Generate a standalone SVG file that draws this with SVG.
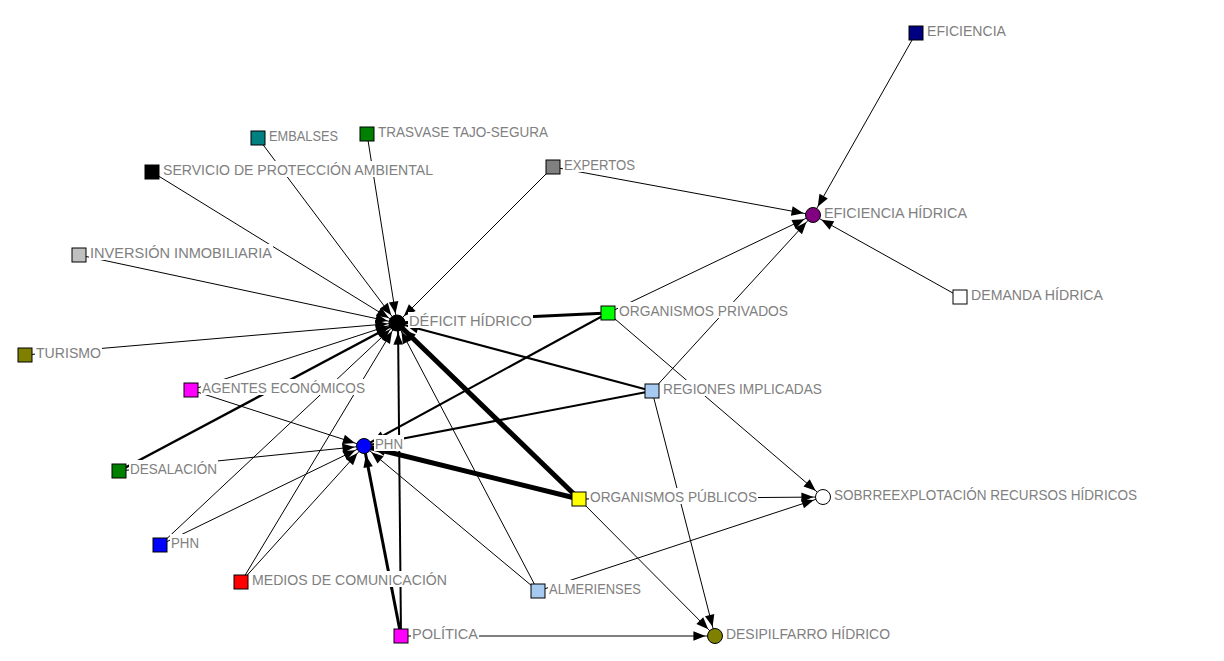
<svg xmlns="http://www.w3.org/2000/svg" width="1224" height="661" viewBox="0 0 1224 661">
<defs>
<marker id="arr" markerUnits="userSpaceOnUse" markerWidth="12" markerHeight="10" viewBox="0 0 10 8" refX="18" refY="4" orient="auto" overflow="visible">
<path d="M0,0 L10,4 L0,8 z" fill="#000"/>
</marker>
</defs>
<style>
.e{stroke:#000;fill:none;marker-end:url(#arr)}
.w1{stroke-width:1}
.w2{stroke-width:2}
.w25{stroke-width:2.5}
.w3{stroke-width:3}
.w5{stroke-width:5}
.sq{stroke:#000;stroke-width:1}
.ci{stroke:#000;stroke-width:1}
.bg{fill:#fff}
.lb{font-family:"Liberation Sans",Arial,sans-serif;font-size:15px;fill:#808080}
</style>
<rect width="1224" height="661" fill="#fff"/>
<g id="connectors">
<line class="e w1" x1="916" y1="33" x2="813" y2="215"/>
<line class="e w1" x1="553" y1="167" x2="813" y2="215"/>
<line class="e w1" x1="960" y1="297" x2="813" y2="215"/>
<line class="e w1" x1="608" y1="313" x2="813" y2="215"/>
<line class="e w1" x1="652" y1="391" x2="813" y2="215"/>
<line class="e w1" x1="553" y1="167" x2="397" y2="323"/>
<line class="e w1" x1="367" y1="134" x2="397" y2="323"/>
<line class="e w1" x1="258" y1="138" x2="397" y2="323"/>
<line class="e w1" x1="152" y1="172" x2="397" y2="323"/>
<line class="e w1" x1="79" y1="255" x2="397" y2="323"/>
<line class="e w1" x1="25" y1="355" x2="397" y2="323"/>
<line class="e w1" x1="191" y1="390" x2="397" y2="323"/>
<line class="e w25" x1="119" y1="471" x2="397" y2="323"/>
<line class="e w1" x1="160" y1="545" x2="397" y2="323"/>
<line class="e w1" x1="241" y1="582" x2="397" y2="323"/>
<line class="e w2" x1="401" y1="636" x2="398" y2="323"/>
<line class="e w1" x1="538" y1="591" x2="397" y2="323"/>
<line class="e w5" x1="579" y1="499" x2="397" y2="323"/>
<line class="e w2" x1="652" y1="391" x2="397" y2="323"/>
<line class="e w3" x1="608" y1="313" x2="397" y2="323"/>
<line class="e w1" x1="191" y1="390" x2="364" y2="446"/>
<line class="e w1" x1="119" y1="471" x2="364" y2="446"/>
<line class="e w1" x1="160" y1="545" x2="364" y2="446"/>
<line class="e w1" x1="241" y1="582" x2="364" y2="446"/>
<line class="e w3" x1="401" y1="636" x2="364" y2="446"/>
<line class="e w1" x1="538" y1="591" x2="364" y2="446"/>
<line class="e w5" x1="579" y1="499" x2="364" y2="446"/>
<line class="e w2" x1="652" y1="391" x2="364" y2="446"/>
<line class="e w2" x1="608" y1="313" x2="364" y2="446"/>
<line class="e w1" x1="608" y1="313" x2="823" y2="497"/>
<line class="e w1" x1="579" y1="499" x2="823" y2="497"/>
<line class="e w1" x1="538" y1="591" x2="823" y2="497"/>
<line class="e w1" x1="401" y1="636" x2="715" y2="636"/>
<line class="e w1" x1="579" y1="499" x2="715" y2="636"/>
<line class="e w1" x1="652" y1="391" x2="715" y2="636"/>
</g>
<g id="n-eficiencia"><rect class="bg" x="926" y="22" width="81" height="16"/><text class="lb" x="927" y="36" textLength="79" lengthAdjust="spacingAndGlyphs">EFICIENCIA</text><rect class="sq" x="909" y="26" width="14" height="14" fill="#000080"/></g>
<g id="n-eficiencia-hidrica"><rect class="bg" x="823" y="204" width="145" height="16"/><text class="lb" x="824" y="218" textLength="143" lengthAdjust="spacingAndGlyphs">EFICIENCIA HÍDRICA</text><circle class="ci" cx="813" cy="215" r="7.5" fill="#800080"/></g>
<g id="n-expertos"><rect class="bg" x="563" y="156" width="73" height="16"/><text class="lb" x="564" y="170" textLength="71" lengthAdjust="spacingAndGlyphs">EXPERTOS</text><rect class="sq" x="546" y="160" width="14" height="14" fill="#808080"/></g>
<g id="n-trasvase"><rect class="bg" x="377" y="123" width="172" height="16"/><text class="lb" x="378" y="137" textLength="170" lengthAdjust="spacingAndGlyphs">TRASVASE TAJO-SEGURA</text><rect class="sq" x="360" y="127" width="14" height="14" fill="#008000"/></g>
<g id="n-embalses"><rect class="bg" x="268" y="127" width="71" height="16"/><text class="lb" x="269" y="141" textLength="69" lengthAdjust="spacingAndGlyphs">EMBALSES</text><rect class="sq" x="251" y="131" width="14" height="14" fill="#008080"/></g>
<g id="n-servicio"><rect class="bg" x="162" y="161" width="272" height="16"/><text class="lb" x="163" y="175" textLength="270" lengthAdjust="spacingAndGlyphs">SERVICIO DE PROTECCIÓN AMBIENTAL</text><rect class="sq" x="145" y="165" width="14" height="14" fill="#000000"/></g>
<g id="n-inversion"><rect class="bg" x="89" y="244" width="184" height="16"/><text class="lb" x="90" y="258" textLength="182" lengthAdjust="spacingAndGlyphs">INVERSIÓN INMOBILIARIA</text><rect class="sq" x="72" y="248" width="14" height="14" fill="#c0c0c0"/></g>
<g id="n-turismo"><rect class="bg" x="35" y="344" width="67" height="16"/><text class="lb" x="36" y="358" textLength="65" lengthAdjust="spacingAndGlyphs">TURISMO</text><rect class="sq" x="18" y="348" width="14" height="14" fill="#808000"/></g>
<g id="n-agentes"><rect class="bg" x="201" y="379" width="165" height="16"/><text class="lb" x="202" y="393" textLength="163" lengthAdjust="spacingAndGlyphs">AGENTES ECONÓMICOS</text><rect class="sq" x="184" y="383" width="14" height="14" fill="#ff00ff"/></g>
<g id="n-desalacion"><rect class="bg" x="129" y="460" width="89" height="16"/><text class="lb" x="130" y="474" textLength="87" lengthAdjust="spacingAndGlyphs">DESALACIÓN</text><rect class="sq" x="112" y="464" width="14" height="14" fill="#008000"/></g>
<g id="n-phn-sq"><rect class="bg" x="170" y="534" width="30" height="16"/><text class="lb" x="171" y="548" textLength="28" lengthAdjust="spacingAndGlyphs">PHN</text><rect class="sq" x="153" y="538" width="14" height="14" fill="#0000ff"/></g>
<g id="n-medios"><rect class="bg" x="251" y="571" width="197" height="16"/><text class="lb" x="252" y="585" textLength="195" lengthAdjust="spacingAndGlyphs">MEDIOS DE COMUNICACIÓN</text><rect class="sq" x="234" y="575" width="14" height="14" fill="#ff0000"/></g>
<g id="n-politica"><rect class="bg" x="411" y="625" width="68" height="16"/><text class="lb" x="412" y="639" textLength="66" lengthAdjust="spacingAndGlyphs">POLÍTICA</text><rect class="sq" x="394" y="629" width="14" height="14" fill="#ff00ff"/></g>
<g id="n-almerienses"><rect class="bg" x="548" y="580" width="94" height="16"/><text class="lb" x="549" y="594" textLength="92" lengthAdjust="spacingAndGlyphs">ALMERIENSES</text><rect class="sq" x="531" y="584" width="14" height="14" fill="#a6caf0"/></g>
<g id="n-org-publicos"><rect class="bg" x="589" y="488" width="169" height="16"/><text class="lb" x="590" y="502" textLength="167" lengthAdjust="spacingAndGlyphs">ORGANISMOS PÚBLICOS</text><rect class="sq" x="572" y="492" width="14" height="14" fill="#ffff00"/></g>
<g id="n-regiones"><rect class="bg" x="662" y="380" width="161" height="16"/><text class="lb" x="663" y="394" textLength="159" lengthAdjust="spacingAndGlyphs">REGIONES IMPLICADAS</text><rect class="sq" x="645" y="384" width="14" height="14" fill="#a6caf0"/></g>
<g id="n-org-privados"><rect class="bg" x="618" y="302" width="171" height="16"/><text class="lb" x="619" y="316" textLength="169" lengthAdjust="spacingAndGlyphs">ORGANISMOS PRIVADOS</text><rect class="sq" x="601" y="306" width="14" height="14" fill="#00ff00"/></g>
<g id="n-demanda"><rect class="bg" x="970" y="286" width="134" height="16"/><text class="lb" x="971" y="300" textLength="132" lengthAdjust="spacingAndGlyphs">DEMANDA HÍDRICA</text><rect class="sq" x="953" y="290" width="14" height="14" fill="#ffffff"/></g>
<g id="n-deficit"><rect class="bg" x="408" y="312" width="125" height="16"/><text class="lb" x="409" y="326" textLength="123" lengthAdjust="spacingAndGlyphs">DÉFICIT HÍDRICO</text><circle class="ci" cx="397" cy="323" r="8" fill="#000000"/></g>
<g id="n-phn"><rect class="bg" x="374" y="435" width="30" height="16"/><text class="lb" x="375" y="449" textLength="28" lengthAdjust="spacingAndGlyphs">PHN</text><circle class="ci" cx="364" cy="446" r="7.5" fill="#0000ff"/></g>
<g id="n-sobre"><rect class="bg" x="833" y="486" width="305" height="16"/><text class="lb" x="834" y="500" textLength="303" lengthAdjust="spacingAndGlyphs">SOBRREEXPLOTACIÓN RECURSOS HÍDRICOS</text><circle class="ci" cx="823" cy="497" r="7.5" fill="#ffffff"/></g>
<g id="n-desip"><rect class="bg" x="725" y="625" width="166" height="16"/><text class="lb" x="726" y="639" textLength="164" lengthAdjust="spacingAndGlyphs">DESIPILFARRO HÍDRICO</text><circle class="ci" cx="715" cy="636" r="7.5" fill="#808000"/></g>
</svg>
